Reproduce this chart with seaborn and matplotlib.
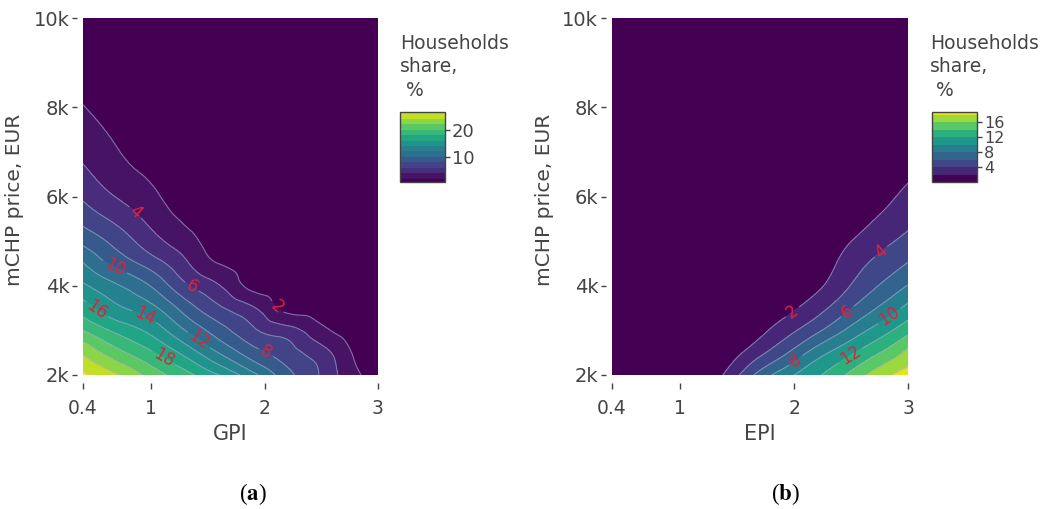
import numpy as np
import matplotlib
matplotlib.use("Agg")
import matplotlib.pyplot as plt
import matplotlib.tri as mtri
import seaborn as sns

# ---------------- data ----------------
gpi = [0.4, 0.7, 1.0, 1.3, 1.6, 1.9, 2.2, 2.5, 2.8, 3.0]
epi = [0.4, 0.7, 1.0, 1.3, 1.6, 1.9, 2.2, 2.5, 2.8, 3.0]
price = [2000, 2500, 3000, 3500, 4000, 4500, 5000, 6000, 7000, 8000, 9000, 10000]

# households share (%), rows = price, columns = GPI
share_gpi = [
    [26.5, 24.2, 21.17, 18.75, 16.0, 12.56, 8.67, 5.75, 2.4, 0.95],
    [23.67, 20.66, 18.25, 15.38, 11.9, 8.82, 6.88, 4.85, 1.7, 0.9],
    [20.0, 17.47, 15.4, 12.0, 8.88, 6.32, 4.83, 2.52, 1.1, 0.88],
    [16.94, 14.4, 12.6, 9.13, 6.33, 4.21, 1.4, 1.2, 0.95, 0.86],
    [14.35, 12.2, 9.9, 6.38, 4.1, 1.4, 1.2, 1.1, 0.93, 0.85],
    [12.1, 9.35, 7.08, 4.35, 1.95, 1.2, 1.1, 1.0, 0.9, 0.84],
    [9.47, 7.26, 4.82, 2.84, 1.0, 0.95, 0.93, 0.9, 0.88, 0.83],
    [5.71, 3.9, 2.43, 1.1, 0.95, 0.92, 0.9, 0.88, 0.85, 0.82],
    [3.5, 2.1, 1.3, 1.0, 0.93, 0.9, 0.88, 0.85, 0.83, 0.81],
    [2.05, 1.4, 1.1, 0.97, 0.92, 0.88, 0.85, 0.83, 0.82, 0.8],
    [1.5, 1.2, 1.0, 0.95, 0.9, 0.86, 0.83, 0.82, 0.8, 0.79],
    [1.3, 1.1, 0.95, 0.9, 0.87, 0.84, 0.82, 0.8, 0.79, 0.78],
]

# households share (%), rows = price, columns = EPI
share_epi = [
    [0.3, 0.5, 0.7, 1.32, 5.3, 9.04, 11.7, 14.55, 17.57, 18.8],
    [0.25, 0.4, 0.45, 0.5, 2.53, 5.5, 9.03, 11.7, 14.43, 16.5],
    [0.2, 0.3, 0.35, 0.4, 0.9, 3.0, 5.57, 8.65, 11.41, 13.33],
    [0.18, 0.25, 0.3, 0.35, 0.6, 1.3, 3.19, 5.94, 8.69, 10.59],
    [0.15, 0.2, 0.25, 0.3, 0.45, 0.8, 1.6, 4.08, 6.48, 8.11],
    [0.12, 0.18, 0.22, 0.25, 0.35, 0.6, 0.9, 3.03, 4.88, 6.09],
    [0.1, 0.15, 0.18, 0.2, 0.3, 0.45, 0.8, 1.98, 3.58, 4.53],
    [0.08, 0.1, 0.12, 0.15, 0.2, 0.3, 0.5, 0.9, 1.6, 2.56],
    [0.05, 0.08, 0.1, 0.12, 0.15, 0.2, 0.3, 0.5, 0.8, 1.0],
    [0.03, 0.05, 0.07, 0.08, 0.1, 0.15, 0.2, 0.3, 0.5, 0.7],
    [0.02, 0.03, 0.04, 0.05, 0.07, 0.1, 0.12, 0.2, 0.3, 0.5],
    [0.0, 0.01, 0.02, 0.03, 0.05, 0.07, 0.1, 0.15, 0.2, 0.3],
]

levels_gpi = [2, 4, 6, 8, 10, 12, 14, 16, 18, 20, 22, 24, 26]
levels_epi = [2, 4, 6, 8, 10, 12, 14, 16, 18]
labeled_gpi = [2, 4, 6, 8, 10, 12, 14, 16, 18]
labeled_epi = [2, 4, 6, 8, 10, 12]

x_ticks = [0.4, 1, 2, 3]
x_tick_labels = ["0.4", "1", "2", "3"]
y_ticks = [2000, 4000, 6000, 8000, 10000]
y_tick_labels = ["2k", "4k", "6k", "8k", "10k"]
cbar_ticks_gpi = [10, 20]
cbar_ticks_epi = [4, 8, 12, 16]

# label anchor spots (layout only: where each contour label is placed)
label_spots_gpi = [(2.11, 3520), (0.84, 5590), (1.33, 3860), (2.00, 2450), (0.66, 4310),
                   (1.41, 2740), (0.92, 3190), (0.53, 3500), (1.11, 2380)]
label_spots_epi = [(1.96, 3500), (2.77, 4740), (2.47, 3410), (2.01, 2340),
                   (2.84, 3300), (2.49, 2450)]

# ---------------- style ----------------
sns.set_theme(style="white")
plt.rcParams["font.family"] = ["DejaVu Sans"]
plt.rcParams["mathtext.fontset"] = "stix"
TXT = "#444444"

fig = plt.figure(figsize=(10.48, 5.09), dpi=100)
cmap = sns.color_palette("viridis", as_cmap=True)


def smooth_surface(xs, Z):
    """Triangulate the read grid and let matplotlib.tri refine it smoothly."""
    X, P = np.meshgrid(xs, price)
    xr = xs[-1] - xs[0]
    pr = price[-1] - price[0]
    u = (X - xs[0]) / xr
    v = (P - price[0]) / pr * 1.21
    ny, nx = Z.shape
    tris = []
    for j in range(ny - 1):
        for i in range(nx - 1):
            a = j * nx + i
            b, c = a + 1, a + nx
            d = c + 1
            tris += [[a, b, d], [a, d, c]]
    tri = mtri.Triangulation(u.ravel(), v.ravel(), tris)
    interp = mtri.CubicTriInterpolator(tri, Z.ravel(), kind="min_E")
    rtri, rz = mtri.UniformTriRefiner(tri).refine_field(
        Z.ravel(), triinterpolator=interp, subdiv=3)
    rx = xs[0] + rtri.x * xr
    rp = price[0] + rtri.y / 1.21 * pr
    return mtri.Triangulation(rx, rp, rtri.triangles), np.clip(rz, Z.min(), Z.max())


def panel(ax_rect, cax_rect, xs, share, lvls, lab_lvls, lab_spots, cticks,
          xlabel, title_x, ylab_x, letter, letter_x, csize):
    ax = fig.add_axes(ax_rect)
    Z = np.array(share, dtype=float)
    zmin, zmax = Z.min(), Z.max()
    inner = [l for l in lvls if zmin < l < zmax]
    fill_levels = [zmin] + inner + [zmax]
    band_colors = [cmap((l - zmin) / (zmax - zmin)) for l in fill_levels[:-1]]
    T, rz = smooth_surface(xs, Z)
    cf = ax.tricontourf(T, rz, levels=fill_levels, colors=band_colors)
    cl = ax.tricontour(T, rz, levels=inner,
                       colors=[(0.66, 0.66, 0.82, 0.6)], linewidths=0.8)
    ax.clabel(cl, levels=lab_lvls, manual=lab_spots, fmt="%d",
              colors="#e3203c", fontsize=12, inline=True, inline_spacing=3)

    ax.set_xlim(0.4, 3.0)
    ax.set_ylim(2000, 10000)
    for s in ax.spines.values():
        s.set_visible(False)
    ax.spines["bottom"].set_position(("outward", 5.8))
    ax.spines["left"].set_position(("outward", 4.3))
    ax.set_xticks(x_ticks, x_tick_labels)
    ax.set_yticks(y_ticks, y_tick_labels)
    ax.tick_params(axis="x", bottom=True, direction="out", length=4.3, width=1,
                   color=TXT, labelcolor=TXT, labelsize=13.5, pad=7)
    ax.tick_params(axis="y", left=True, direction="out", length=3.6, width=1,
                   color=TXT, labelcolor=TXT, labelsize=14, pad=2)

    fig.text(ax_rect[0] + ax_rect[2] / 2, 1 - 434 / 509, xlabel, ha="center",
             va="center", fontsize=15, color=TXT)
    fig.text(ylab_x, 1 - 200 / 509, "mCHP price, EUR", rotation=90, ha="center",
             va="center", fontsize=14.5, color=TXT)

    cax = fig.add_axes(cax_rect)
    cb = fig.colorbar(cf, cax=cax, ticks=cticks, spacing="proportional")
    cb.outline.set_edgecolor(TXT)
    cb.outline.set_linewidth(1)
    cax.tick_params(direction="out", length=3.5, width=1, color=TXT,
                    labelcolor=TXT, labelsize=csize, pad=1.5, right=True)
    fig.text(title_x, 1 - 34 / 509, "Households\nshare,\n %", ha="left", va="top",
             fontsize=13.5, color=TXT, linespacing=1.3)

    fig.text(letter_x, 1 - 494 / 509, "(" + r"$\mathbf{" + letter + r"}$" + ")",
             ha="center", va="center", fontsize=16.5, family="Liberation Serif",
             color="black")
    return ax


panel([83 / 1048, 134 / 509, 295 / 1048, 357 / 509],
      [400 / 1048, 327 / 509, 45 / 1048, 70 / 509],
      gpi, share_gpi, levels_gpi, labeled_gpi, label_spots_gpi, cbar_ticks_gpi,
      "GPI", 400 / 1048, 15 / 1048, "a", 253 / 1048, 13)

panel([612 / 1048, 134 / 509, 296 / 1048, 357 / 509],
      [932 / 1048, 327 / 509, 45 / 1048, 70 / 509],
      epi, share_epi, levels_epi, labeled_epi, label_spots_epi, cbar_ticks_epi,
      "EPI", 930 / 1048, 544 / 1048, "b", 785 / 1048, 11.5)

fig.savefig("out.png", dpi=100)
